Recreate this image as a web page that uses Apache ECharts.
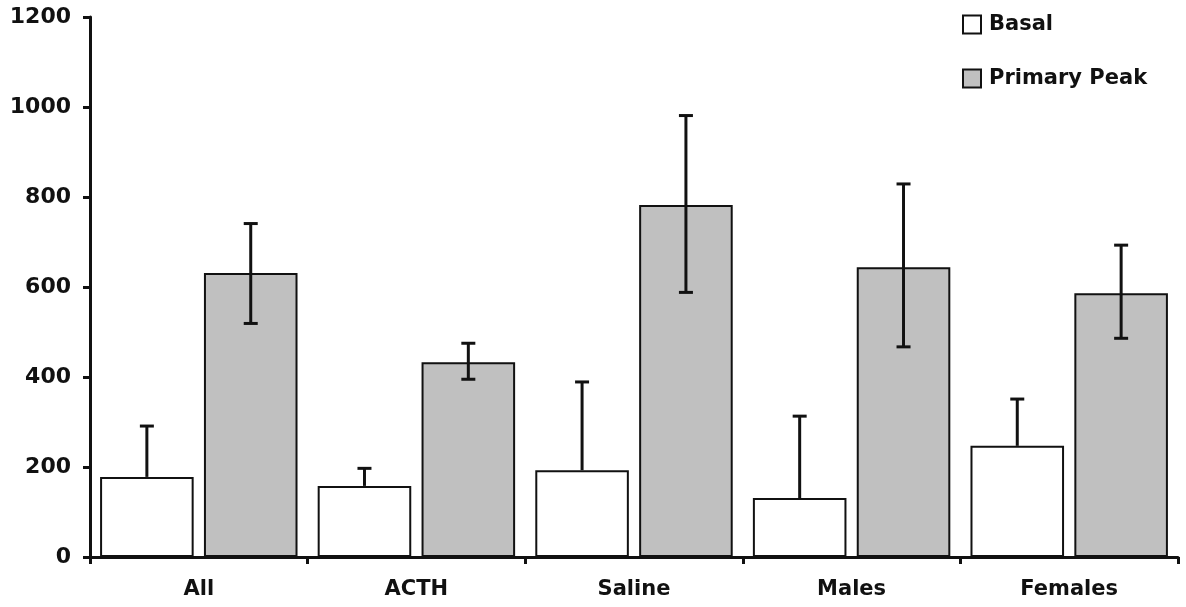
<!DOCTYPE html>
<html>
<head>
<meta charset="utf-8">
<script src="https://cdn.jsdelivr.net/npm/echarts@6/dist/echarts.min.js"></script>
<style>
  html, body { margin: 0; padding: 0; background: #fff; }
  #chart { width: 1186px; height: 607px; }
</style>
</head>
<body>
<div id="chart"></div>
<script>
// data
const categories = ['All', 'ACTH', 'Saline', 'Males', 'Females'];
const basal = [178, 158, 193, 131, 247];
const basalHigh = [291, 197, 389, 313, 351];
const peak = [631, 433, 782, 644, 586];
const peakLow = [519, 395, 588, 467, 486];
const peakHigh = [741, 475, 981, 829, 693];
const yTicks = [0, 200, 400, 600, 800, 1000, 1200];

const BAR_W = 0.43;   // share of the category band
const BAR_GAP = 0.11; // share of the bar width
const fontFamily = '"DejaVu Sans", Verdana, sans-serif';

// error bar drawn at the centre of one of the two bars
function errorBar(side, withLow) {
    return function (params, api) {
        const idx = api.value(0);
        const hi = api.coord([idx, api.value(2)]);
        const lo = api.coord([idx, api.value(1)]);
        const band = api.size([1, 0])[0];
        const bw = band * BAR_W;
        const shift = side * (bw + bw * BAR_GAP) / 2;
        const x = hi[0] + shift;
        const cap = 7;
        const style = { stroke: '#111', lineWidth: 3 };
        const children = [
            { type: 'line', shape: { x1: x, y1: lo[1], x2: x, y2: hi[1] }, style },
            { type: 'line', shape: { x1: x - cap, y1: hi[1], x2: x + cap, y2: hi[1] }, style }
        ];
        if (withLow) {
            children.push({ type: 'line', shape: { x1: x - cap, y1: lo[1], x2: x + cap, y2: lo[1] }, style });
        }
        return { type: 'group', children };
    };
}

const chart = echarts.init(document.getElementById('chart'));
chart.setOption({
    animation: false,
    backgroundColor: '#fff',
    textStyle: { fontFamily },
    grid: { left: 90, right: 8, top: 17, bottom: 50, containLabel: false },
    legend: {
        orient: 'vertical',
        left: 962,
        top: 14,
        padding: 0,
        icon: 'rect',
        itemWidth: 18,
        itemHeight: 18,
        itemGap: 33,
        data: ['Basal', 'Primary Peak'],
        textStyle: { fontFamily, fontWeight: 'bold', fontSize: 21, color: '#111', padding: [0, 0, 0, 3] }
    },
    xAxis: {
        type: 'category',
        data: categories,
        axisLine: { lineStyle: { color: '#111', width: 3 } },
        axisTick: { show: true, length: 7, lineStyle: { color: '#111', width: 3 } },
        axisLabel: { margin: 22, fontFamily, fontWeight: 'bold', fontSize: 21, color: '#111' }
    },
    yAxis: {
        type: 'value',
        min: yTicks[0],
        max: yTicks[yTicks.length - 1],
        interval: 200,
        splitLine: { show: false },
        axisLine: { show: true, lineStyle: { color: '#111', width: 3 } },
        axisTick: { show: true, length: 7, lineStyle: { color: '#111', width: 3 } },
        axisLabel: { margin: 19, fontFamily, fontWeight: 'bold', fontSize: 22, color: '#111', formatter: v => String(v) }
    },
    series: [
        {
            name: 'Basal',
            type: 'bar',
            data: basal,
            barWidth: (BAR_W * 100) + '%',
            barGap: (BAR_GAP * 100) + '%',
            itemStyle: { color: '#ffffff', borderColor: '#111', borderWidth: 2 }
        },
        {
            name: 'Primary Peak',
            type: 'bar',
            data: peak,
            barWidth: (BAR_W * 100) + '%',
            barGap: (BAR_GAP * 100) + '%',
            itemStyle: { color: '#c0c0c0', borderColor: '#111', borderWidth: 2 }
        },
        {
            type: 'custom',
            renderItem: errorBar(-1, false),
            data: basal.map((v, i) => [i, v, basalHigh[i]]),
            z: 10
        },
        {
            type: 'custom',
            renderItem: errorBar(1, true),
            data: peak.map((v, i) => [i, peakLow[i], peakHigh[i]]),
            z: 10
        }
    ]
});
</script>
</body>
</html>
